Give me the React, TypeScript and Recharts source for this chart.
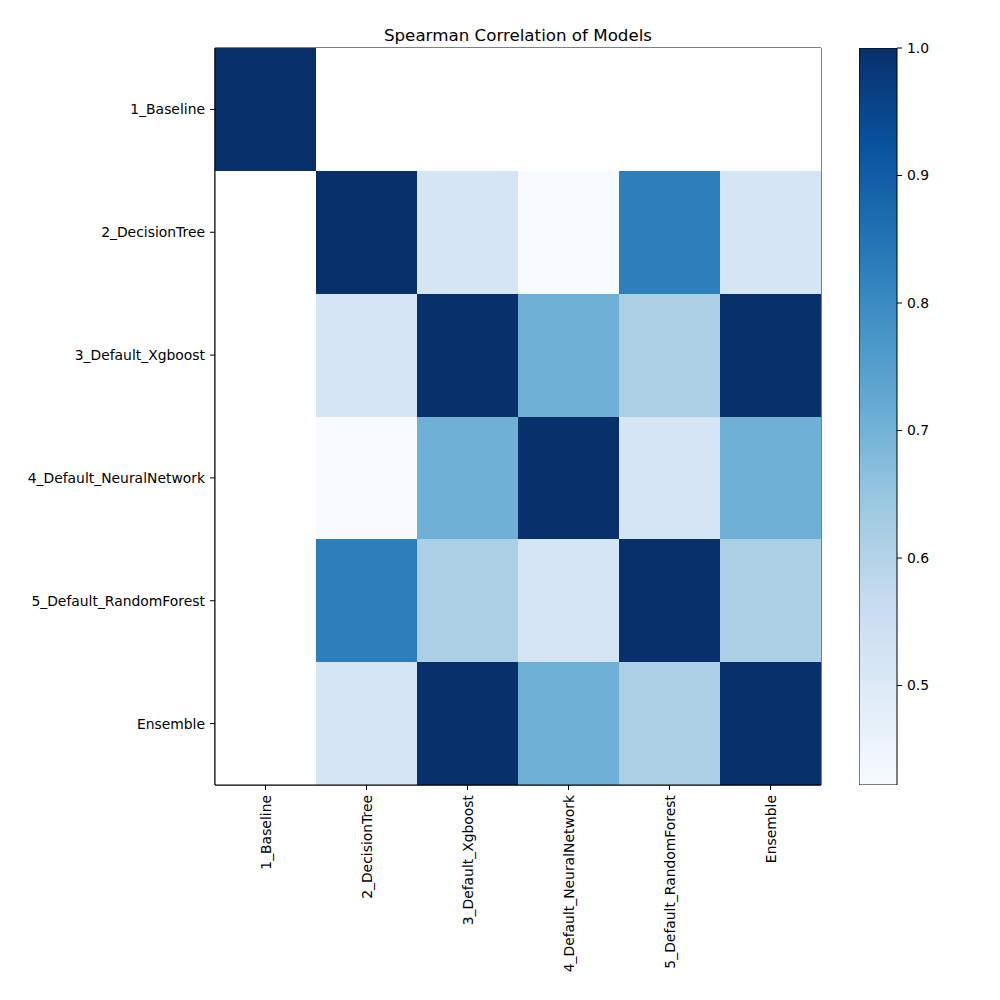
import React from "react";
import { BarChart, Bar, Cell, XAxis, YAxis, ReferenceArea } from "recharts";

const MODELS = [
  "1_Baseline",
  "2_DecisionTree",
  "3_Default_Xgboost",
  "4_Default_NeuralNetwork",
  "5_Default_RandomForest",
  "Ensemble",
];

// Spearman correlation rows (null = undefined, baseline is constant)
const ROW_BASELINE = [1, null, null, null, null, null];
const ROW_DECISION_TREE = [null, 1, 0.521, 0.422, 0.827, 0.521];
const ROW_XGBOOST = [null, 0.521, 1, 0.705, 0.615, 1];
const ROW_NEURAL_NETWORK = [null, 0.422, 0.705, 1, 0.521, 0.705];
const ROW_RANDOM_FOREST = [null, 0.827, 0.615, 0.521, 1, 0.615];
const ROW_ENSEMBLE = [null, 0.521, 1, 0.705, 0.615, 1];

const MATRIX: (number | null)[][] = [
  ROW_BASELINE,
  ROW_DECISION_TREE,
  ROW_XGBOOST,
  ROW_NEURAL_NETWORK,
  ROW_RANDOM_FOREST,
  ROW_ENSEMBLE,
];

const COLORBAR_TICKS = [0.5, 0.6, 0.7, 0.8, 0.9, 1.0];
const VMIN = 0.422;
const VMAX = 1.0;

// matplotlib "Blues" anchor colours
const BLUES = [
  "#f7fbff",
  "#deebf7",
  "#c6dbef",
  "#9ecae1",
  "#6baed6",
  "#4292c6",
  "#2171b5",
  "#08519c",
  "#08306b",
];

const FONT = "'DejaVu Sans', sans-serif";

function hexToRgb(h: string): number[] {
  const n = parseInt(h.slice(1), 16);
  return [(n >> 16) & 255, (n >> 8) & 255, n & 255];
}

function blues(v: number | null): string {
  if (v == null) return "#ffffff";
  const t = Math.min(1, Math.max(0, (v - VMIN) / (VMAX - VMIN)));
  const p = t * (BLUES.length - 1);
  const i = Math.min(BLUES.length - 2, Math.floor(p));
  const f = p - i;
  const a = hexToRgb(BLUES[i]);
  const b = hexToRgb(BLUES[i + 1]);
  const c = a.map((x, k) => Math.round(x + (b[k] - x) * f));
  return `rgb(${c[0]},${c[1]},${c[2]})`;
}

// one stacked segment (height 1) per row, one category per column
const cellData = MODELS.map((name) => {
  const row: Record<string, unknown> = { name };
  MODELS.forEach((_, r) => {
    row[`r${r}`] = 1;
  });
  return row;
});

const colorbarData = [{ name: "cb", range: [VMIN, VMAX] }];

function RotatedTick(props: any) {
  const { x, y, payload } = props;
  return (
    <text
      transform={`translate(${x},${y}) rotate(-90)`}
      textAnchor="end"
      dominantBaseline="central"
      fontSize={13.9}
      fontFamily={FONT}
      fill="#000"
    >
      {payload.value}
    </text>
  );
}

export default function App() {
  return (
    <div
      style={{
        position: "absolute",
        left: 0,
        top: 0,
        width: 1000,
        height: 1000,
        background: "#fff",
        fontFamily: FONT,
      }}
    >
      <div
        style={{
          position: "absolute",
          left: 215,
          width: 606,
          top: 25,
          textAlign: "center",
          fontSize: 16.7,
          lineHeight: "20px",
          color: "#000",
        }}
      >
        Spearman Correlation of Models
      </div>

      <div style={{ position: "absolute", left: 0, top: 0 }}>
        <BarChart
          width={1000}
          height={1000}
          data={cellData}
          margin={{ top: 48, right: 179, bottom: 15, left: 0 }}
          barCategoryGap={0}
          barGap={0}
        >
          <XAxis
            dataKey="name"
            interval={0}
            height={200}
            tickSize={5}
            tickMargin={5}
            tick={<RotatedTick />}
            axisLine={{ stroke: "#000" }}
            tickLine={{ stroke: "#000" }}
          />
          <YAxis
            type="number"
            domain={[0, MODELS.length]}
            reversed
            ticks={MODELS.map((_, i) => i + 0.5)}
            interval={0}
            tickFormatter={(v: number) => MODELS[Math.floor(v)]}
            width={215}
            tickSize={5}
            tickMargin={5}
            tick={{ fill: "#000", fontSize: 13.9, fontFamily: FONT }}
            axisLine={{ stroke: "#000" }}
            tickLine={{ stroke: "#000" }}
          />
          {MODELS.map((_, r) => (
            <Bar
              key={r}
              dataKey={`r${r}`}
              stackId="m"
              isAnimationActive={false}
            >
              {MODELS.map((__, c) => (
                <Cell
                  key={c}
                  fill={blues(MATRIX[r][c])}
                  stroke="none"
                  shapeRendering="crispEdges"
                />
              ))}
            </Bar>
          ))}
          {/* frame around the plot area */}
          <ReferenceArea
            y1={0}
            y2={MODELS.length}
            fill="none"
            fillOpacity={0}
            stroke="#000"
            strokeWidth={1}
            ifOverflow="extendDomain"
          />
        </BarChart>
      </div>

      <div style={{ position: "absolute", left: 859, top: 0 }}>
        <BarChart
          width={141}
          height={1000}
          data={colorbarData}
          margin={{ top: 48, right: 0, bottom: 215, left: 0 }}
          barCategoryGap={0}
        >
          <defs>
            <linearGradient id="bluesGrad" x1="0" y1="1" x2="0" y2="0">
              {BLUES.map((c, i) => (
                <stop key={i} offset={i / (BLUES.length - 1)} stopColor={c} />
              ))}
            </linearGradient>
          </defs>
          <XAxis dataKey="name" hide />
          <YAxis
            orientation="right"
            type="number"
            domain={[VMIN, VMAX]}
            allowDataOverflow
            ticks={COLORBAR_TICKS}
            interval={0}
            tickFormatter={(v: number) => v.toFixed(1)}
            width={103}
            tickSize={5}
            tickMargin={5}
            tick={{ fill: "#000", fontSize: 13.9, fontFamily: FONT }}
            axisLine={false}
            tickLine={{ stroke: "#000" }}
          />
          <Bar
            dataKey="range"
            fill="url(#bluesGrad)"
            stroke="#000"
            strokeWidth={1}
            isAnimationActive={false}
          />
        </BarChart>
      </div>
    </div>
  );
}
